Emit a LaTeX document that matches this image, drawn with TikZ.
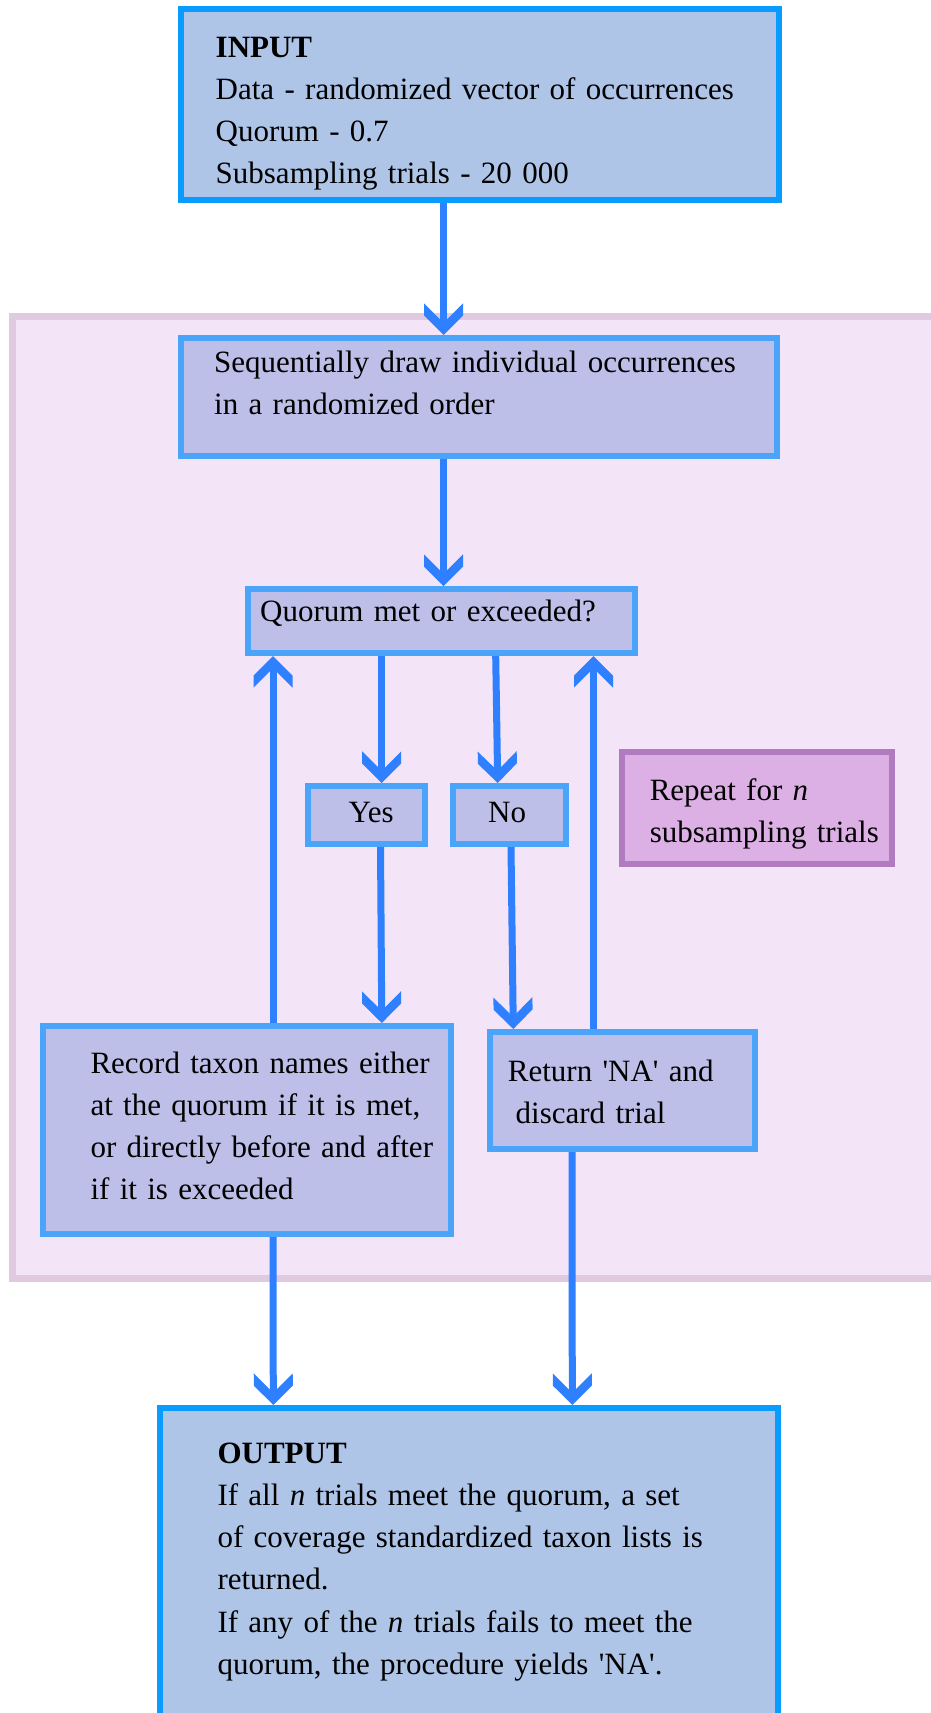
\documentclass[tikz,border=0pt]{standalone}
\usepackage{fontspec}
\setmainfont{Liberation Serif}
\usepackage{tikz}
\usetikzlibrary{arrows.meta,positioning}
\definecolor{flowblue}{RGB}{46,128,255}
\definecolor{ioborder}{RGB}{10,155,255}
\definecolor{iofill}{RGB}{175,197,232}
\definecolor{stepborder}{RGB}{74,165,250}
\definecolor{stepfill}{RGB}{189,191,232}
\definecolor{loopborder}{RGB}{224,202,226}
\definecolor{loopfill}{RGB}{243,228,248}
\definecolor{noteborder}{RGB}{176,123,191}
\definecolor{notefill}{RGB}{220,175,229}

% thick open chevron used on all connectors
\pgfdeclarearrow{
	name = Chevron,
	setup code = {
		\pgfarrowssettipend{0pt}
		\pgfarrowssetlineend{-12pt}
		\pgfarrowssetbackend{-31.7pt}
		\pgfarrowshullpoint{0pt}{0pt}
		\pgfarrowsupperhullpoint{-31.7pt}{19.5pt}
	},
	drawing code = {
		\pgfpathmoveto{\pgfqpoint{0pt}{0pt}}
		\pgfpathlineto{\pgfqpoint{-19.5pt}{19.5pt}}
		\pgfpathlineto{\pgfqpoint{-31.7pt}{19.5pt}}
		\pgfpathlineto{\pgfqpoint{-12.2pt}{0pt}}
		\pgfpathlineto{\pgfqpoint{-31.7pt}{-19.5pt}}
		\pgfpathlineto{\pgfqpoint{-19.5pt}{-19.5pt}}
		\pgfpathclose
		\pgfusepathqfill
	}
}

\begin{document}
\begin{tikzpicture}[
		x=1pt, y=-1pt,
		IOBox/.style={draw=ioborder, fill=iofill, line width=6pt, outer sep=3pt, inner sep=0pt, anchor=north west},
		StepBox/.style={draw=stepborder, fill=stepfill, line width=6pt, outer sep=3pt, inner sep=0pt, anchor=north west},
		NoteBox/.style={draw=noteborder, fill=notefill, line width=6pt, outer sep=3pt, inner sep=0pt, anchor=north west},
		LoopArea/.style={draw=loopborder, fill=loopfill, line width=7pt},
		BoxText/.style={anchor=base west, inner sep=0pt, text width=600pt, align=left, font=\fontsize{31pt}{42.3pt}\selectfont},
		Flow/.style={color=flowblue, line width=7pt, -{Chevron}}
		]

		\clip (0,0) rectangle (931,1713);
		\useasboundingbox (0,0) rectangle (931,1713);

		% repeated part of the procedure
		\draw[LoopArea] (12.5,316.5) rectangle (960,1278.5);

		\node[IOBox, minimum width=598, minimum height=191] (input) at (178,6) {};
		\node[BoxText] (input-text) at (215.5,57) {\textbf{INPUT}\\Data - randomized vector of occurrences\\Quorum - 0.7\\Subsampling trials - 20 000};

		\node[StepBox, minimum width=596, minimum height=118] (draw) at (178,335) {};
		\node[BoxText] (draw-text) at (214,372.5) {Sequentially draw individual occurrences\\in a randomized order};

		\node[StepBox, minimum width=387, minimum height=64] (quorum) at (245,586) {};
		\node[BoxText] (quorum-text) at (260,621.7) {Quorum met or exceeded?};

		\node[StepBox, minimum width=117, minimum height=58] (yes) at (305,783) {};
		\node[BoxText] (yes-text) at (348.3,822.7) {Yes};

		\node[StepBox, minimum width=113, minimum height=58] (no) at (450,783) {};
		\node[BoxText] (no-text) at (488,822.7) {No};

		\node[NoteBox, minimum width=270, minimum height=112] (repeat) at (619,749) {};
		\node[BoxText] (repeat-text) at (649.6,800) {Repeat for \textit{n}\\subsampling trials};

		\node[StepBox, minimum width=408, minimum height=208] (record) at (40,1023) {};
		\node[BoxText] (record-text) at (90.3,1073) {Record taxon names either\\at the quorum if it is met,\\or directly before and after\\if it is exceeded};

		\node[StepBox, minimum width=265, minimum height=117] (return) at (487,1029) {};
		\node[BoxText] (return-text) at (507.7,1081) {Return \textquotesingle NA\textquotesingle\ and\\\hspace*{0.25em}discard trial};

		\node[IOBox, minimum width=618, minimum height=400] (output) at (157,1405) {};
		\node[BoxText] (output-text) at (217.3,1463) {\textbf{OUTPUT}\\If all \textit{n} trials meet the quorum, a set\\of coverage standardized taxon lists is\\returned.\\If any of the \textit{n} trials fails to meet the\\quorum, the procedure yields \textquotesingle NA\textquotesingle.};

		\draw[Flow] ([xshift=-36.5]input.south) -- ([xshift=-35.5]draw.north);
		\draw[Flow] ([xshift=-35.5]draw.south) -- ([xshift=2]quorum.north);
		\draw[Flow] ([xshift=-59.8]quorum.south) -- ([xshift=15.2]yes.north);
		\draw[Flow] ([xshift=54.2]quorum.south) -- ([xshift=-11.8]no.north);
		\draw[Flow] ([xshift=14]yes.south) -- ([xshift=134.8]record.north);
		\draw[Flow] ([xshift=1.5]no.south) -- ([xshift=-109.2]return.north);
		\draw[Flow] ([xshift=26]record.north) -- ([xshift=-168.5]quorum.south);
		\draw[Flow] ([xshift=-29]return.north) -- ([xshift=152]quorum.south);
		\draw[Flow] ([xshift=26]record.south) -- ([xshift=-195.7]output.north);
		\draw[Flow] ([xshift=-50.5]return.south) -- ([xshift=103.3]output.north);

\end{tikzpicture}
\end{document}
